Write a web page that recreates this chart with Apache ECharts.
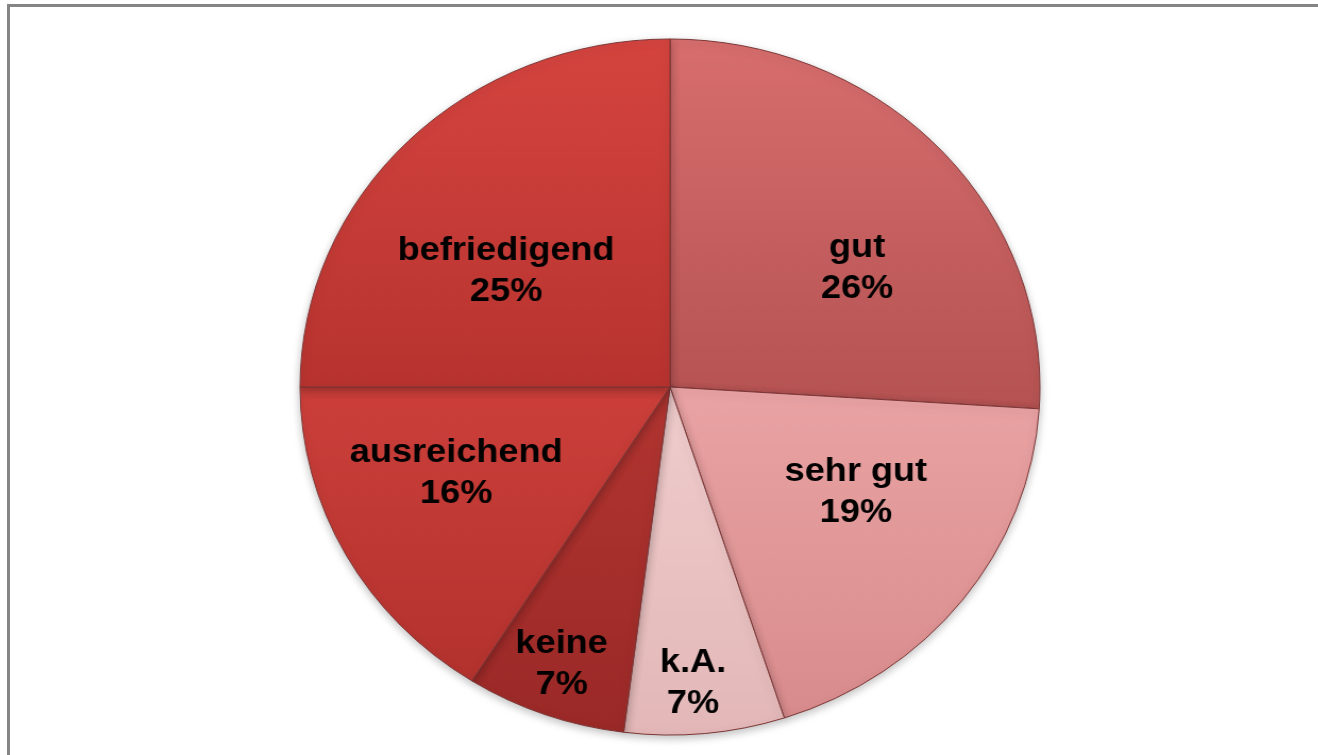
<!DOCTYPE html>
<html>
<head>
<meta charset="utf-8">
<script src="https://cdn.jsdelivr.net/npm/echarts@6/dist/echarts.min.js"></script>
<style>
  html, body { margin: 0; padding: 0; background: #fff; overflow: hidden; width: 1318px; height: 755px; }
  #frame {
    position: absolute; left: 7px; top: 4px; right: -10px; bottom: -10px;
    border-left: 3px solid #858585; border-top: 3px solid #858585;
  }
  /* Das Original ist leicht in die Breite gezogen */
  #main {
    position: absolute; left: 0; top: 0; width: 1318px; height: 755px;
    transform: scaleX(1.063); transform-origin: 670px 0;
  }
</style>
</head>
<body>
<div id="frame"></div>
<div id="main"></div>
<script>
// Kategorien im Uhrzeigersinn ab 12 Uhr
var categories = ["gut", "sehr gut", "k.A.", "keine", "ausreichend", "befriedigend"];
var values = [26, 19, 7, 7, 16, 25];
// Farbverlauf je Segment (oben, unten)
var topColors = ["#d86e6e", "#eaa3a4", "#f0cdcd", "#b23531", "#cc3f3a", "#d5443f"];
var bottomColors = ["#b55252", "#d88b8c", "#e3b7b7", "#9a2927", "#b3322e", "#b7332f"];

// Verschiebung der Beschriftungen gegenüber der Standard-Innenposition
var labelShift = {
  "gut": [47, 2],
  "sehr gut": [35, -3],
  "k.A.": [5, 120],
  "keine": [-42, 111],
  "ausreichend": [-46, 1],
  "befriedigend": [-29, 9]
};

var myChart = echarts.init(document.getElementById("main"));

var pieData = categories.map(function (name, i) {
  return {
    name: name,
    value: values[i],
    itemStyle: {
      color: new echarts.graphic.LinearGradient(0, 0, 0, 1, [
        { offset: 0, color: topColors[i] },
        { offset: 1, color: bottomColors[i] }
      ])
    },
    label: { offset: labelShift[name] }
  };
});

var option = {
  animation: false,
  series: [
    {
      type: "pie",
      center: [670, 387],
      radius: [0, 348],
      startAngle: 90,
      clockwise: true,
      percentPrecision: 0,
      avoidLabelOverlap: false,
      itemStyle: {
        borderColor: "#7c3535",
        borderWidth: 1,
        shadowBlur: 8,
        shadowOffsetY: 3,
        shadowColor: "rgba(0,0,0,0.25)"
      },
      label: {
        show: true,
        position: "inside",
        formatter: "{b}\n{d}%",
        color: "#000",
        fontFamily: "Liberation Sans, Arial, sans-serif",
        fontWeight: "bold",
        fontSize: 34,
        lineHeight: 41,
        align: "center"
      },
      labelLine: { show: false },
      emphasis: { disabled: true },
      data: pieData
    }
  ]
};

myChart.setOption(option);
</script>
</body>
</html>
